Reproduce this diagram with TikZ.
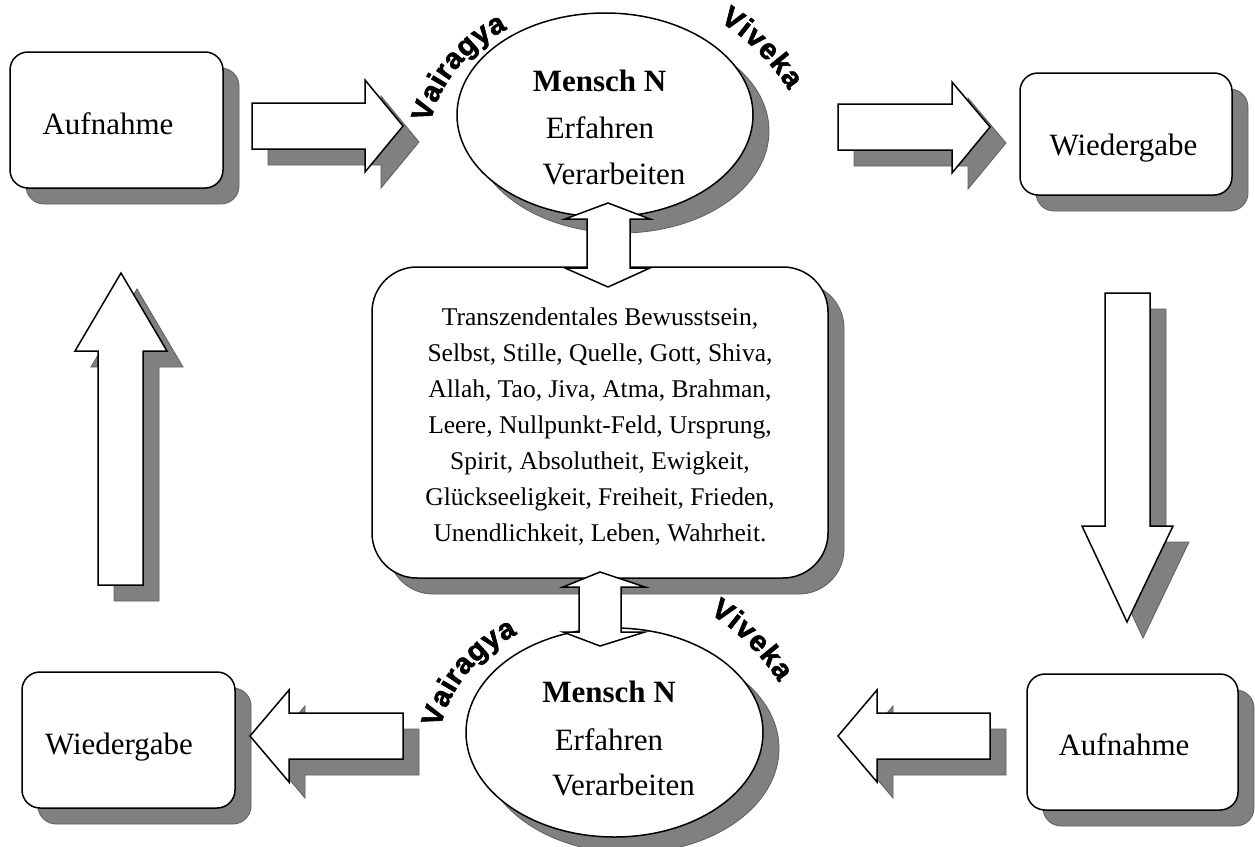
\documentclass[tikz,border=0pt]{standalone}
\usepackage{fontspec}
\setmainfont{Liberation Serif}
\newfontfamily\wafont{Liberation Sans}[FakeBold=2.2]
\usetikzlibrary{shapes.geometric,shadows,decorations.text}
\definecolor{shgray}{RGB}{128,128,128}
\definecolor{shedge}{RGB}{95,95,95}
\newcommand\wastyle{\wafont\bfseries\fontsize{29}{30}\selectfont}
\begin{document}
\begin{tikzpicture}[x=1pt,y=-1pt,line join=miter,
  shad/.style={drop shadow={shadow xshift=16pt,shadow yshift=-16pt,fill=shgray,draw=shedge,line width=0.8pt,opacity=1}},
  box/.style={draw=black,line width=1.5pt,fill=white,rounded corners=18pt,inner sep=0pt,shad},
  oval/.style={ellipse,draw=black,line width=1.5pt,fill=white,inner sep=0pt,shad},
  barrow/.style={draw=black,line width=1.5pt,fill=white,shad},
  darrow/.style={draw=black,line width=1.5pt,fill=white},
  lbl/.style={font=\fontsize{31}{36}\selectfont,anchor=base,inner sep=0pt},
  arch/.style={decorate,decoration={text along path,text={|\wastyle|#1},text align={fit to path}}}]
\useasboundingbox (0,0) rectangle (1255,846);
\fill[white] (0,0) rectangle (1255,846);
% boxes
\node[box,minimum width=213pt,minimum height=136pt] (aufA) at (116.5,120) {};
\node[box,minimum width=212pt,minimum height=122pt] (wieA) at (1126,134) {};
\node[box,minimum width=211pt,minimum height=136pt] (aufB) at (1132.5,742) {};
\node[box,minimum width=213pt,minimum height=136pt] (wieB) at (128.5,740) {};
\node[box,rounded corners=45pt,minimum width=456pt,minimum height=311pt] (core) at (600,422.5) {};
% ellipses
\node[oval,minimum width=296pt,minimum height=204pt] (menA) at (605,115) {};
\node[oval,minimum width=297pt,minimum height=209pt] (menB) at (614.5,732.5) {};
% block arrows
\draw[barrow] (252,103) -- (365,103) -- (365,80) -- (403,126) -- (365,172) -- (365,149) -- (252,149) -- cycle;
\draw[barrow] (838,104) -- (952,104) -- (952,82) -- (990,127) -- (952,173) -- (952,150) -- (838,150) -- cycle;
\draw[barrow] (1105,293) -- (1150,293) -- (1150,526) -- (1173,526) -- (1127,622) -- (1082,526) -- (1105,526) -- cycle;
\draw[barrow] (98,585) -- (98,351) -- (75,351) -- (121,273) -- (167,351) -- (143,351) -- (143,585) -- cycle;
\draw[barrow] (990,713) -- (877,713) -- (877,690) -- (838,736) -- (877,782) -- (877,759) -- (990,759) -- cycle;
\draw[barrow] (403,713) -- (289,713) -- (289,690) -- (250,736) -- (289,782) -- (289,759) -- (403,759) -- cycle;
% double arrows
\draw[darrow] (608,203) -- (650,219) -- (630,219) -- (630,268) -- (650,268) -- (608,287) -- (565,268) -- (587,268) -- (587,219) -- (565,219) -- cycle;
\draw[darrow] (600,572) -- (645,587) -- (621,587) -- (621,632) -- (645,632) -- (600,646) -- (563,632) -- (579,632) -- (579,587) -- (563,587) -- cycle;
% texts
\node[lbl] (aufAt) at (108,134) {Aufnahme};
\node[lbl] (wieAt) at (1123.5,155) {Wiedergabe};
\node[lbl] (aufBt) at (1124,755) {Aufnahme};
\node[lbl] (wieBt) at (119,754) {Wiedergabe};
\node[lbl,font=\bfseries\fontsize{31}{36}\selectfont] (mA1) at (599.5,91) {Mensch N};
\node[lbl] (mA2) at (600,138) {Erfahren};
\node[lbl] (mA3) at (614,184) {Verarbeiten};
\node[lbl,font=\bfseries\fontsize{31}{36}\selectfont] (mB1) at (609,702) {Mensch N};
\node[lbl] (mB2) at (609,750) {Erfahren};
\node[lbl] (mB3) at (623.5,795) {Verarbeiten};
\node[font=\fontsize{25.5}{36}\selectfont,align=center,inner sep=0pt] (coret) at (600,427) {Transzendentales Bewusstsein,\\Selbst, Stille, Quelle, Gott, Shiva,\\Allah, Tao, Jiva, Atma, Brahman,\\Leere, Nullpunkt-Feld, Ursprung,\\Spirit, Absolutheit, Ewigkeit,\\Glückseeligkeit, Freiheit, Frieden,\\Unendlichkeit, Leben, Wahrheit.};
% arched words
\path[arch=Vairagya] (567,157) ++(166:141pt) arc[start angle=166,end angle=115,radius=141pt];
\path[arch=Viveka] (600.6,210) ++(57.8:223pt) arc[start angle=57.8,end angle=32.5,radius=223pt];
\path[arch=Vairagya] (577,762) ++(166:141pt) arc[start angle=166,end angle=115,radius=141pt];
\path[arch=Viveka] (590.6,802) ++(57.8:223pt) arc[start angle=57.8,end angle=32.5,radius=223pt];
\end{tikzpicture}
\end{document}
